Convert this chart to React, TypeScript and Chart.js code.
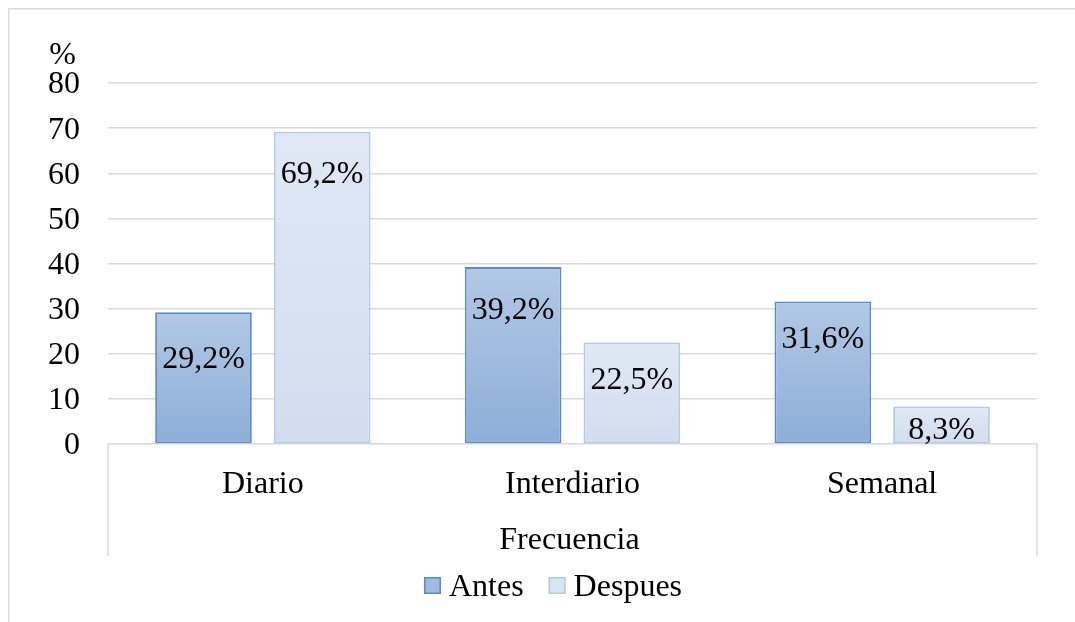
import React, { useEffect, useRef } from "react";
import { Chart, registerables } from "chart.js";

Chart.register(...registerables);

// ---- data ----
const categories = ["Diario", "Interdiario", "Semanal"];
const seriesNames = ["Antes", "Despues"];
const antesValues = [29.2, 39.2, 31.6];
const despuesValues = [69.2, 22.5, 8.3];
const yMin = 0;
const yMax = 80;
const yStep = 10;
const yUnitLabel = "%";
const xAxisTitle = "Frecuencia";

// ---- styles ----
const FONT_FAMILY = "'Liberation Serif', 'Times New Roman', serif";
const FONT_SIZE = 32;
const GRID = "#d9d9d9";
const labelOffsets = [
  [45, 41.5, 36],
  [41, 36, 22],
];
const seriesStyles = [
  { top: "#b2c8e5", bottom: "#8daed9", border: "#5b8bc8", legendFill: "#a0bbe0" },
  { top: "#e0e8f5", bottom: "#d1ddef", border: "#b3c7e6", legendFill: "#dbe4f3" },
];

const fmt = (v: number) => v.toFixed(1).replace(".", ",") + "%";

function makeBg(idx: number) {
  return (ctx: any) => {
    const chart = ctx.chart;
    const st = seriesStyles[idx];
    if (ctx.type !== "data" || !chart.chartArea || !chart.scales.y) return st.bottom;
    const y = chart.scales.y;
    const top = y.getPixelForValue(ctx.raw);
    const bot = y.getPixelForValue(0);
    if (!isFinite(top) || !isFinite(bot) || top === bot) return st.bottom;
    const g = chart.ctx.createLinearGradient(0, top, 0, bot);
    g.addColorStop(0, st.top);
    g.addColorStop(1, st.bottom);
    return g;
  };
}

const decorPlugin = {
  id: "decor",
  afterDatasetsDraw(chart: any) {
    const ctx = chart.ctx;
    ctx.save();
    ctx.font = `${FONT_SIZE}px ${FONT_FAMILY}`;
    ctx.fillStyle = "#000";
    ctx.textAlign = "center";
    ctx.textBaseline = "alphabetic";
    chart.data.datasets.forEach((ds: any, di: number) => {
      const meta = chart.getDatasetMeta(di);
      meta.data.forEach((el: any, i: number) => {
        const v = ds.data[i];
        const cy = el.y + labelOffsets[di][i];
        ctx.fillText(fmt(v), el.x, cy + 10.5);
      });
    });
    ctx.restore();
  },
  afterDraw(chart: any) {
    const ctx = chart.ctx;
    const area = chart.chartArea;
    const xs = chart.scales.x;
    ctx.save();
    // outer chart border (partial, as cropped)
    ctx.strokeStyle = GRID;
    ctx.lineWidth = 1.5;
    ctx.beginPath();
    ctx.moveTo(8.75, chart.height);
    ctx.lineTo(8.75, 8.75);
    ctx.lineTo(chart.width, 8.75);
    ctx.stroke();
    // category axis outer separators
    ctx.beginPath();
    ctx.moveTo(area.left, area.bottom);
    ctx.lineTo(area.left, 556);
    ctx.moveTo(area.right, area.bottom);
    ctx.lineTo(area.right, 556);
    ctx.stroke();

    ctx.fillStyle = "#000";
    ctx.font = `${FONT_SIZE}px ${FONT_FAMILY}`;
    ctx.textBaseline = "alphabetic";
    ctx.textAlign = "center";
    // category labels
    categories.forEach((c, i) => {
      ctx.fillText(c, xs.getPixelForTick(i), 493);
    });
    // axis title
    ctx.fillText(xAxisTitle, (area.left + area.right) / 2 - 3, 549);
    // unit label
    ctx.fillText(yUnitLabel, 62.5, 64);

    // legend
    const box = 17;
    const gapBoxText = 8;
    const gapItems = 25;
    ctx.textAlign = "left";
    const widths = seriesNames.map((n) => ctx.measureText(n).width);
    const total = widths.reduce((a, w) => a + box + gapBoxText + w, 0) + gapItems * (seriesNames.length - 1);
    let x = 553 - total / 2;
    seriesNames.forEach((n, i) => {
      const st = seriesStyles[i];
      ctx.fillStyle = st.legendFill;
      ctx.fillRect(x, 577, box, box);
      ctx.strokeStyle = st.border;
      ctx.lineWidth = 1.5;
      ctx.strokeRect(x + 0.75, 577.75, box - 1.5, box - 1.5);
      ctx.fillStyle = "#000";
      ctx.fillText(n, x + box + gapBoxText, 596);
      x += box + gapBoxText + widths[i] + gapItems;
    });
    ctx.restore();
  },
};

export default function App() {
  const ref = useRef<HTMLCanvasElement | null>(null);
  useEffect(() => {
    if (!ref.current) return;
    const chart = new Chart(ref.current, {
      type: "bar",
      data: {
        labels: categories,
        datasets: [
          {
            label: seriesNames[0],
            data: antesValues,
            backgroundColor: makeBg(0),
            borderColor: seriesStyles[0].border,
            borderWidth: 1.8,
            borderSkipped: false,
            categoryPercentage: 0.7667,
            barPercentage: 0.814,
          },
          {
            label: seriesNames[1],
            data: despuesValues,
            backgroundColor: makeBg(1),
            borderColor: seriesStyles[1].border,
            borderWidth: 1.8,
            borderSkipped: false,
            categoryPercentage: 0.7667,
            barPercentage: 0.814,
          },
        ],
      },
      options: {
        responsive: false,
        animation: false,
        layout: { padding: { top: 83, right: 38, bottom: 0, left: 0 } },
        plugins: {
          legend: { display: false },
          tooltip: { enabled: false },
          title: { display: false },
        },
        scales: {
          x: {
            grid: { display: false },
            border: { display: false },
            ticks: { display: false },
            afterFit: (s: any) => {
              s.height = 178;
            },
          },
          y: {
            min: yMin,
            max: yMax,
            ticks: {
              stepSize: yStep,
              padding: 28,
              labelOffset: 2,
              color: "#000",
              font: { family: FONT_FAMILY, size: FONT_SIZE },
            },
            grid: { color: GRID, lineWidth: 1.5, drawTicks: false },
            border: { display: false },
            afterFit: (s: any) => {
              s.width = 108;
            },
          },
        },
      },
      plugins: [decorPlugin],
    });
    return () => chart.destroy();
  }, []);
  return (
    <div style={{ position: "absolute", left: 0, top: 0, width: 1075, height: 622, background: "#fff" }}>
      <canvas ref={ref} width={1075} height={622} style={{ display: "block", width: 1075, height: 622 }} />
    </div>
  );
}
